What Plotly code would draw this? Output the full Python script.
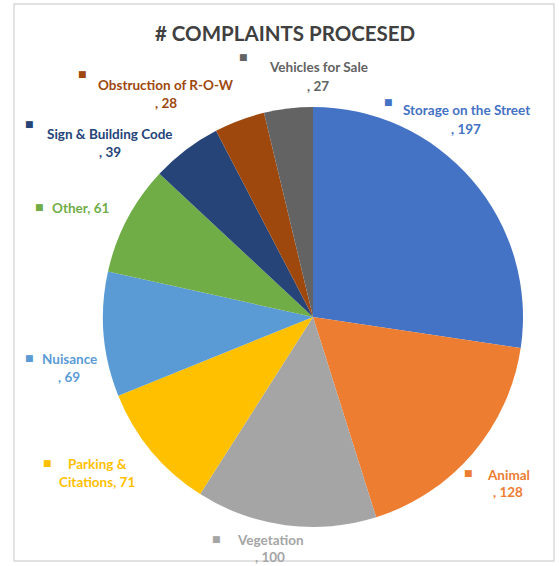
import plotly.graph_objects as go

# ---- data ----
categories = ["Storage on the Street", "Animal", "Vegetation", "Parking & Citations",
              "Nuisance", "Other", "Sign & Building Code", "Obstruction of R-O-W",
              "Vehicles for Sale"]
values = [197, 128, 100, 71, 69, 61, 39, 28, 27]
colors = ["#4472C4", "#ED7D31", "#A5A5A5", "#FFC000", "#5B9BD5",
          "#70AD47", "#264478", "#9E480E", "#636363"]
title_text = "# COMPLAINTS PROCESED"

# ---- layout of the outside labels (pixel positions) ----
W, H = 559, 566
# (marker x, marker y, text center x, [line y ...], line templates)
label_layout = [
    (388, 102, 466, [110, 129], ["{name}", ", {v}"]),
    (469, 473, 508, [475, 492], ["{name}", ", {v}"]),
    (216, 539, 270, [540, 557], ["{name}", ", {v}"]),
    (47, 463, 97, [464, 482], ["Parking &", "Citations, {v}"]),
    (29, 358, 69, [359, 377], ["{name}", ", {v}"]),
    (39, 207, 80, [208], ["{name}, {v}"]),
    (29, 124, 110, [134, 152], ["{name}", ", {v}"]),
    (82, 74, 166, [85, 103], ["{name}", ", {v}"]),
    (243, 57, 318, [67, 86], ["{name}", ", {v}"]),
]

def px(x):
    return x / W

def py(y):
    return 1 - y / H

cx, cy, r = 313, 317, 210

fig = go.Figure(go.Pie(
    labels=categories,
    values=values,
    marker=dict(colors=colors, line=dict(width=0)),
    sort=False,
    direction="clockwise",
    rotation=0,
    textinfo="none",
    hoverinfo="label+value",
    domain=dict(x=[px(cx - r), px(cx + r)], y=[py(cy + r), py(cy - r)]),
    showlegend=False,
))

annotations = [dict(
    text=title_text, x=px(285), y=py(33), xref="paper", yref="paper",
    xanchor="center", yanchor="middle", showarrow=False,
    font=dict(family="Lato", size=20.5, color="#404040", weight="bold"),
)]

for name, v, col, (mx, my, tx, lys, tmpls) in zip(categories, values, colors, label_layout):
    annotations.append(dict(
        text="■", x=px(mx), y=py(my), xref="paper", yref="paper",
        xanchor="center", yanchor="middle", showarrow=False,
        font=dict(family="DejaVu Sans", size=9, color=col),
    ))
    for ly, t in zip(lys, tmpls):
        annotations.append(dict(
            text=t.format(name=name, v=v), x=px(tx), y=py(ly),
            xref="paper", yref="paper", xanchor="center", yanchor="middle",
            showarrow=False,
            font=dict(family="Lato", size=13.5, color=col, weight="bold"),
        ))

fig.update_layout(
    width=W, height=H,
    margin=dict(l=0, r=0, t=0, b=0),
    paper_bgcolor="white",
    plot_bgcolor="white",
    annotations=annotations,
    shapes=[dict(type="rect", xref="paper", yref="paper",
                 x0=px(14), x1=px(554), y0=py(561), y1=py(4),
                 line=dict(color="#D9D9D9", width=1.5), fillcolor="rgba(0,0,0,0)")],
)

fig.write_html("out.html")
